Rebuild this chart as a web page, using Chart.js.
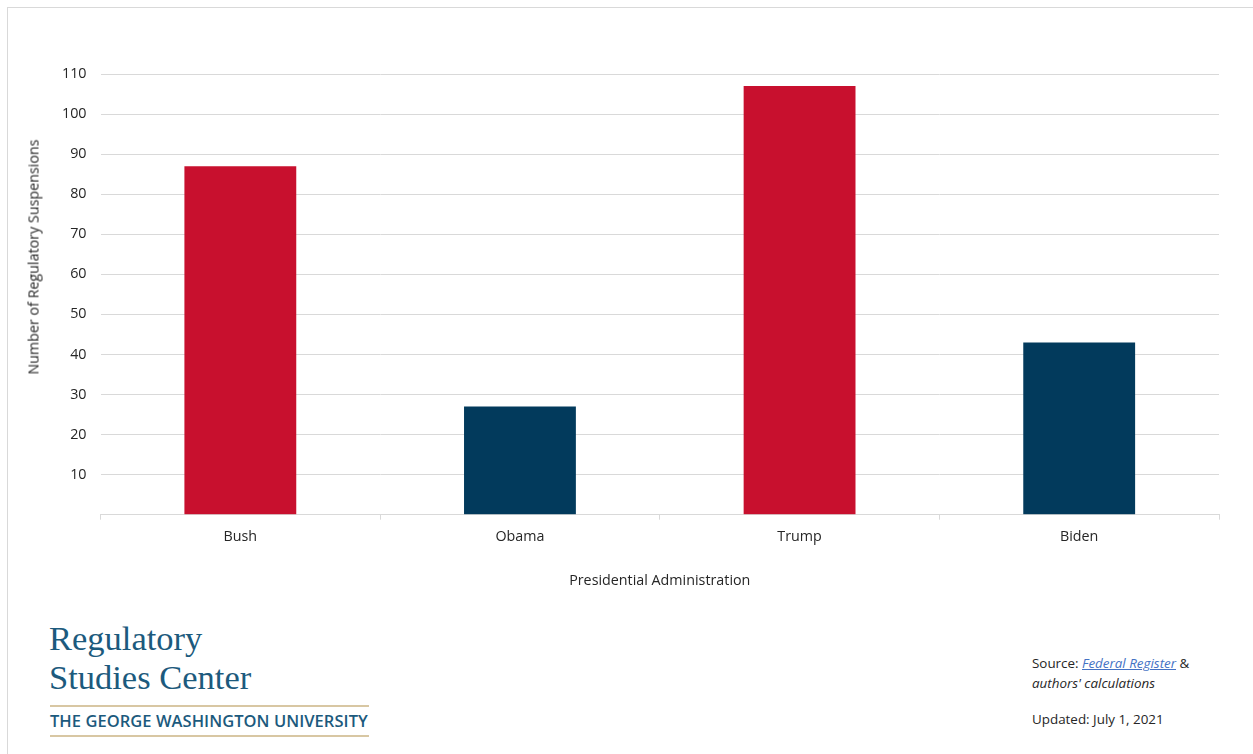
<!DOCTYPE html>
<html>
<head>
<meta charset="utf-8">
<script src="https://cdn.jsdelivr.net/npm/chart.js@4.4.0/dist/chart.umd.min.js"></script>
<style>
  html, body { margin: 0; padding: 0; background: #fff; }
  body { width: 1253px; height: 754px; position: relative; overflow: hidden; font-family: "Open Sans", "Liberation Sans", sans-serif; }
  #frame { position: absolute; left: 7px; top: 7px; width: 1300px; height: 800px; border-top: 1px solid #d9d9d9; border-left: 1px solid #d9d9d9; }
  #wrap { position: absolute; left: 0; top: 0; width: 1253px; height: 610px; }
  #ytitle { position: absolute; left: 33px; top: 257px; transform: translate(-50%, -50%) rotate(-90deg); font-family: "Open Sans", sans-serif; font-size: 14.3px; color: #262626; white-space: nowrap; }
  .logo1 { position: absolute; left: 49px; top: 619px; font-family: "Liberation Serif", "DejaVu Serif", serif; font-size: 34.5px; line-height: 39px; color: #1c5a7d; }
  .gwline { position: absolute; left: 50px; width: 319px; height: 2px; background: #d8c7a3; }
  .gw { position: absolute; left: 50px; top: 709px; width: 319px; font-family: "Open Sans", sans-serif; font-weight: 600; font-size: 16.5px; letter-spacing: 0.05px; color: #1c5a7d; white-space: nowrap; }
  .src { position: absolute; left: 1032px; font-family: "Open Sans", sans-serif; font-size: 13.4px; color: #262626; white-space: nowrap; }
  .src a { color: #4472c4; font-style: italic; text-decoration: underline; }
</style>
</head>
<body>
<div id="frame"></div>
<div id="wrap"><canvas id="c"></canvas></div>
<div id="ytitle"></div>
<div class="logo1">Regulatory<br>Studies Center</div>
<div class="gwline" style="top:705px"></div>
<div class="gw">THE GEORGE WASHINGTON UNIVERSITY</div>
<div class="gwline" style="top:735px"></div>
<div class="src" style="top:654px">Source: <a>Federal Register</a> &amp;</div>
<div class="src" style="top:674px; font-style: italic;">authors' calculations</div>
<div class="src" style="top:710px">Updated: July 1, 2021</div>
<script>
const categories = ["Bush", "Obama", "Trump", "Biden"];
const suspensions = [87, 27, 107, 43];
const barColors = ["#c8102e", "#023a5c", "#c8102e", "#023a5c"];
const yTitle = "Number of Regulatory Suspensions";
const xTitle = "Presidential Administration";

document.getElementById("ytitle").textContent = yTitle;

new Chart(document.getElementById("c"), {
  type: "bar",
  data: {
    labels: categories,
    datasets: [{ data: suspensions, backgroundColor: barColors, borderWidth: 0, barPercentage: 0.8, categoryPercentage: 0.5 }]
  },
  options: {
    responsive: true,
    maintainAspectRatio: false,
    animation: false,
    layout: { padding: { left: 48, right: 34, top: 74, bottom: 20 } },
    plugins: { legend: { display: false }, tooltip: { enabled: false } },
    scales: {
      x: {
        grid: { offset: true, drawOnChartArea: false, color: "#d9d9d9", tickLength: 5 },
        border: { color: "#d9d9d9", width: 1 },
        ticks: { color: "#262626", font: { family: "Open Sans", size: 14.3 }, padding: 9 },
        title: { display: true, text: xTitle, color: "#262626", font: { family: "Open Sans", size: 14.3 }, padding: { top: 18, bottom: 0 } }
      },
      y: {
        min: 0, max: 110,
        ticks: { stepSize: 10, color: "#262626", font: { family: "Open Sans", size: 14.3 }, padding: 14,
                 callback: (v) => v === 0 ? "" : v },
        grid: { color: "#d9d9d9", drawTicks: false },
        border: { display: false }
      }
    }
  }
});
</script>
</body>
</html>
